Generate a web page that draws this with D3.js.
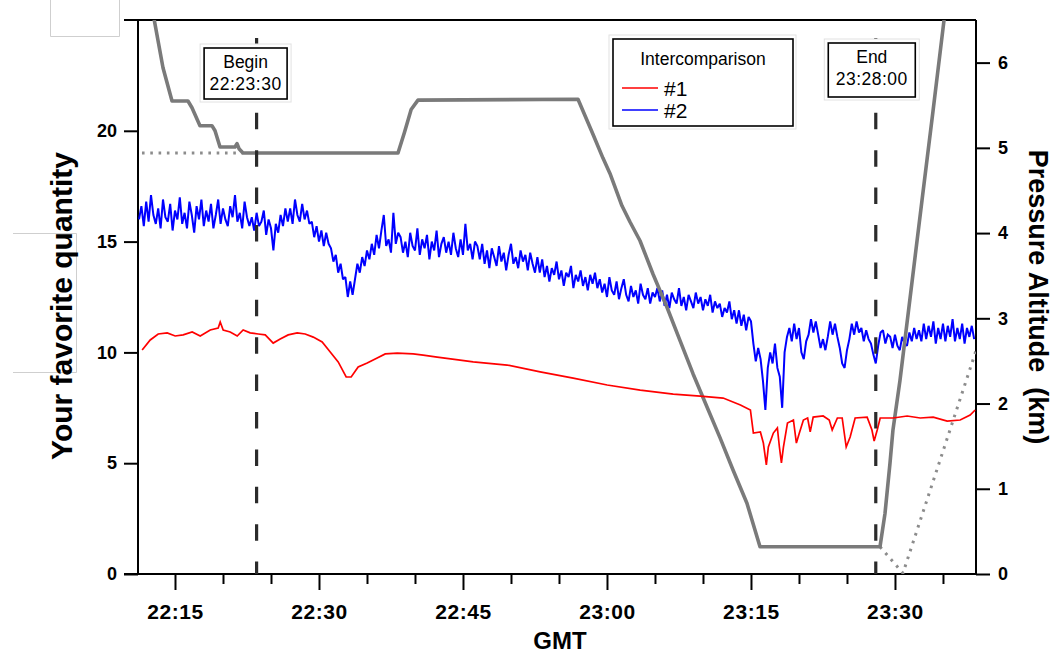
<!DOCTYPE html>
<html>
<head>
<meta charset="utf-8">
<script src="https://cdn.jsdelivr.net/npm/d3@7"></script>
<style>
  body { margin: 0; background: #fff; }
  svg { font-family: "Liberation Sans", Arial, sans-serif; }
</style>
</head>
<body>
<svg id="chart" width="1053" height="654"></svg>
<script>
// all times are minutes after 22:00 GMT
const redT = [11.58, 12.42, 13.25, 14.19, 15.02, 15.85, 16.79, 17.63, 18.67, 19.5, 19.71, 20.02, 20.75, 21.48, 22.1, 22.83, 23.67, 24.4, 25.23, 25.96, 26.79, 27.73, 28.56, 29.4, 30.33, 31.17, 32.0, 32.83, 33.35, 34.08, 35.02, 36.06, 36.9, 38.15, 39.81, 40.85, 42.31, 44.5, 46.06, 49.6, 53.04, 56.48, 60.02, 63.46, 66.9, 69.71, 72.1, 73.9, 74.94, 75.25, 75.98, 76.29, 76.6, 76.81, 77.33, 77.75, 77.96, 78.17, 78.38, 78.8, 79.42, 79.73, 80.04, 80.46, 80.9, 81.17, 81.48, 82.52, 83.15, 83.46, 84.0, 84.5, 84.92, 85.33, 85.85, 87.1, 87.6, 87.83, 88.15, 88.46, 89.81, 91.27, 92.63, 93.98, 95.44, 96.79, 97.83, 98.35]
const redV = [10.11, 10.56, 10.83, 10.88, 10.74, 10.79, 10.92, 10.74, 11.01, 11.10, 11.37, 11.01, 10.92, 10.74, 11.01, 10.88, 10.83, 10.79, 10.42, 10.6, 10.79, 10.88, 10.83, 10.69, 10.47, 10.02, 9.57, 8.89, 8.89, 9.34, 9.52, 9.75, 9.93, 9.97, 9.93, 9.88, 9.79, 9.66, 9.57, 9.43, 9.12, 8.84, 8.53, 8.30, 8.12, 8.03, 7.94, 7.63, 7.40, 6.36, 6.41, 5.91, 4.92, 5.73, 6.36, 6.59, 5.73, 5.01, 5.73, 6.81, 6.95, 5.91, 6.36, 6.95, 7.04, 6.41, 7.08, 7.13, 6.95, 6.50, 7.04, 7.04, 5.73, 6.18, 7.04, 7.08, 6.50, 6.00, 6.50, 7.04, 7.04, 7.13, 7.04, 7.08, 6.90, 6.95, 7.17, 7.40]

// #2 is logged every 15 s
const blueStart = 11.25
const blueStep = 0.25
const blueV = [
  16.0, 16.6, 15.7, 16.8, 15.9, 17.1, 16.2, 15.8, 16.5, 15.6, 16.9, 16.1, 15.9, 16.7, 15.5, 16.4, 16.0, 17.0, 15.8, 16.3,
  15.6, 16.8, 16.2, 15.4, 16.6, 16.0, 16.9, 15.7, 16.4, 15.9, 16.7, 15.6, 16.2, 16.9, 15.8, 16.5, 16.0, 15.7, 16.6, 16.1,
  17.1, 15.9, 16.3, 15.6, 16.8, 16.1, 15.7,
  16.1, 15.5, 16.3, 15.7, 15.9, 16.4, 15.3, 16.0, 15.6, 14.6, 15.8, 15.4, 16.2, 15.7, 16.5, 15.9,
  16.5, 15.8, 16.9, 16.2, 15.9, 16.7, 16.0, 16.4, 15.8,
  15.9, 15.2, 15.7, 15.0, 15.5, 14.8, 15.4, 14.9,
  14.7, 14.1, 14.4, 13.6, 14.0, 13.3,
  13.4, 12.5, 13.2, 12.6,
  13.3, 14.0, 13.6, 14.3, 13.9, 14.6, 14.2,
  14.9, 14.4, 15.3, 14.7, 15.5, 16.2, 14.8, 15.1, 14.5, 16.3, 14.9, 15.4,
  15.2, 14.5, 15.0, 14.3, 15.4, 14.8, 14.6, 15.6, 14.4, 15.1, 14.7, 15.3, 14.2, 15.0, 14.6, 15.5, 14.3, 14.9, 15.2, 14.5,
  15.0, 14.4, 15.4, 14.7, 14.3,
  15.1, 14.4, 15.8, 14.6, 14.9, 14.2, 15.0,
  14.8, 14.2, 14.9, 14.0, 14.6, 13.8, 14.7, 14.3, 13.9, 14.8, 14.1, 14.5, 13.7, 14.4, 14.9, 14.0, 14.3, 13.8, 14.6, 14.1,
  14.4, 13.7, 14.5, 14.0, 13.6, 14.3,
  13.6, 14.2, 13.4, 13.9, 13.2, 13.8, 13.5, 14.1, 13.3, 13.7, 13.0, 13.6, 13.4, 13.9, 12.9, 13.5, 13.2, 13.7, 13.0, 13.4,
  12.8, 13.5, 13.1, 13.6, 12.9,
  13.3, 12.7, 13.1, 12.5, 13.4, 12.8, 12.6, 13.2, 12.4, 12.9, 13.3, 12.6, 12.3, 13.0, 12.5, 12.8, 12.2, 13.1, 12.6, 12.4,
  12.9, 12.2, 12.7, 12.5, 12.9,
  12.3, 12.8, 12.1, 12.6, 12.0, 12.7, 12.4, 12.2, 12.9, 12.1, 12.5, 11.9, 12.6, 12.3, 12.0, 12.7, 12.2, 12.5, 11.9, 12.4,
  12.1, 12.6, 11.8, 12.3, 12.0,
  12.2, 11.6, 12.0, 11.8, 12.3, 11.5, 11.9,
  11.3, 11.9, 11.2, 11.7, 11.0, 11.6, 11.4,
  10.4, 9.6, 10.2,
  9.7, 8.7, 7.4, 9.3, 10.0,
  9.5, 10.4, 9.3,
  8.9, 7.5,
  10.0, 10.7, 11.1,
  10.5, 11.3, 10.6, 11.1,
  10.0, 9.7, 10.5,
  10.8, 11.5, 10.9, 11.4,
  10.8, 10.2, 10.6, 10.1,
  10.7, 11.4, 10.8, 11.3, 10.7,
  10.2, 9.5, 9.3, 10.1,
  10.6, 11.3, 10.8, 11.4, 10.9,
  11.1, 10.5, 11.0, 10.6, 10.4,
  9.9, 9.5,
  10.3, 10.9, 11.0, 10.4, 10.8,
  10.7, 10.2, 10.8, 10.3, 10.1, 10.7, 10.4,
  10.3, 10.9, 10.5, 11.1, 10.6, 11.0,
  10.5, 11.3, 10.6, 11.2, 10.7, 11.4, 10.4, 11.1, 10.6, 11.3, 10.5, 11.2, 10.7, 11.5, 10.5, 11.1, 10.6, 11.3, 10.4, 11.1,
  10.7, 11.2, 10.6
]

// pressure altitude, km
const altT = [12.40, 13.75, 14.69, 16.35, 16.77, 17.60, 18.85, 19.17, 19.69, 21.25, 21.46, 21.67, 22.08, 38.23, 38.9, 39.6, 40.31, 56.98, 58.54, 59.58, 60.31, 61.56, 62.40, 63.44, 64.79, 66.25, 67.60, 68.96, 70.42, 71.77, 73.13, 74.58, 75.94, 88.44, 88.96, 89.48, 89.79, 90.52, 91.67, 92.81, 93.96, 95.10, 95.42]
const altKm = [6.77, 5.94, 5.55, 5.55, 5.47, 5.26, 5.26, 5.20, 5.01, 5.01, 5.05, 4.99, 4.94, 4.94, 5.18, 5.45, 5.56, 5.57, 5.16, 4.88, 4.70, 4.32, 4.13, 3.91, 3.52, 3.13, 2.74, 2.35, 1.96, 1.60, 1.22, 0.83, 0.32, 0.32, 0.71, 1.30, 1.69, 2.27, 3.33, 4.38, 5.43, 6.49, 6.78]
const dotStartT = [11.56, 22.0]
const dotStartKm = [4.94, 4.94]
const dotEndT = [88.44, 90.83, 98.44]
const dotEndKm = [0.32, 0.01, 2.62]

const markerLabels = ['Begin', 'End']
const markerTimes = ['22:23:30', '23:28:00']
const leftTicks = [0, 5, 10, 15, 20]
const rightTicks = [0, 1, 2, 3, 4, 5, 6]
const legendTitle = 'Intercomparison'
const seriesNames = ['#1', '#2']
const seriesColors = ['#ff0000', '#0000ff']

const base = new Date(2000, 0, 1, 22, 0, 0)
const toDate = (m) => new Date(base.getTime() + m * 60000)
const FONT = '"Liberation Sans", Arial, sans-serif'

createGraph()

function createGraph () {
  const dim = { left: 138, right: 976, top: 20, bottom: 574 }
  const svg = d3.select('#chart')
  const scales = setScales(dim)
  drawStrayFrames(svg)
  drawFrame(svg, dim)
  drawAxes(svg, dim, scales)
  drawSeries(svg, dim, scales)
  drawMarkers(svg, dim, scales)
  drawLegend(svg)
  drawTitles(svg)
}

function setScales (dim) {
  return {
    x: d3.scaleTime()
      .domain([toDate(11.146), toDate(98.44)])
      .range([dim.left, dim.right]),
    yL: d3.scaleLinear().domain([0, 25]).range([dim.bottom, dim.top]),
    yR: d3.scaleLinear().domain([0, 6.5]).range([dim.bottom, dim.top])
  }
}

function drawStrayFrames (svg) {
  // leftover empty text frames in the original figure
  svg.append('path')
    .attr('d', 'M50.5,0 V36.5 H119.5 V0')
    .attr('fill', 'none').attr('stroke', '#cfcfcf')
  svg.append('path')
    .attr('d', 'M13,233.5 H76.5 V372.5 H13')
    .attr('fill', 'none').attr('stroke', '#cfcfcf')
}

function drawFrame (svg, { left, right, top, bottom }) {
  const g = svg.append('g').attr('stroke', '#000').attr('stroke-width', 2)
  g.append('line').attr('x1', 124).attr('x2', right).attr('y1', top).attr('y2', top)
  g.append('line').attr('x1', 124).attr('x2', right).attr('y1', bottom).attr('y2', bottom)
  g.append('line').attr('x1', left).attr('x2', left).attr('y1', top).attr('y2', bottom)
  g.append('line').attr('x1', right).attr('x2', right).attr('y1', top).attr('y2', bottom)
}

function drawAxes (svg, dim, { x, yL, yR }) {
  const major = d3.range(15, 91, 15).map(toDate)
  const minor = d3.range(20, 96, 5).filter((m) => m % 15 !== 0).map(toDate)

  const gx = svg.append('g')
    .attr('transform', `translate(0,${dim.bottom})`)
    .call(d3.axisBottom(x).tickValues(major).tickSize(16).tickPadding(14)
      .tickFormat(d3.timeFormat('%H:%M')))
  const gm = svg.append('g')
    .attr('transform', `translate(0,${dim.bottom})`)
    .call(d3.axisBottom(x).tickValues(minor).tickSize(10).tickFormat(''))
  gx.selectAll('text').attr('font-size', 21).attr('letter-spacing', 0.6)

  const gl = svg.append('g')
    .attr('transform', `translate(${dim.left},0)`)
    .call(d3.axisLeft(yL).tickValues(leftTicks).tickSize(14).tickPadding(7)
      .tickFormat(d3.format('d')))
  const gr = svg.append('g')
    .attr('transform', `translate(${dim.right},0)`)
    .call(d3.axisRight(yR).tickValues(rightTicks).tickSize(14).tickPadding(8)
      .tickFormat(d3.format('d')))
  gl.selectAll('text').attr('font-size', 18)
  gr.selectAll('text').attr('font-size', 18)

  for (const g of [gx, gm, gl, gr]) {
    g.attr('font-family', FONT)
    g.select('.domain').remove()
    g.selectAll('line').attr('stroke', '#000').attr('stroke-width', 2)
    g.selectAll('text').attr('fill', '#000').attr('font-weight', 'bold')
  }
}

function drawSeries (svg, dim, { x, yL, yR }) {
  svg.append('clipPath').attr('id', 'plotClip')
    .append('rect')
    .attr('x', dim.left).attr('y', dim.top)
    .attr('width', dim.right - dim.left).attr('height', dim.bottom - dim.top)
  const g = svg.append('g').attr('clip-path', 'url(#plotClip)')

  const lineL = d3.line().x((d) => x(toDate(d[0]))).y((d) => yL(d[1]))
  const lineR = d3.line().x((d) => x(toDate(d[0]))).y((d) => yR(d[1]))
  const blue = blueV.map((v, i) => [blueStart + i * blueStep, v])

  g.append('path').datum(blue).attr('d', lineL)
    .attr('fill', 'none').attr('stroke', seriesColors[1]).attr('stroke-width', 2)
    .attr('stroke-linejoin', 'miter').attr('stroke-miterlimit', 2)

  for (const seg of [d3.zip(dotStartT, dotStartKm), d3.zip(dotEndT, dotEndKm)]) {
    g.append('path').datum(seg).attr('d', lineR)
      .attr('fill', 'none').attr('stroke', '#8c8c8c').attr('stroke-width', 3)
      .attr('stroke-dasharray', '2.6,5.7')
  }
  g.append('path').datum(d3.zip(altT, altKm)).attr('d', lineR)
    .attr('fill', 'none').attr('stroke', '#7a7a7a').attr('stroke-width', 3.6)
    .attr('stroke-linejoin', 'round')

  g.append('path').datum(d3.zip(redT, redV)).attr('d', lineL)
    .attr('fill', 'none').attr('stroke', seriesColors[0]).attr('stroke-width', 1.7)
}

function drawMarkers (svg, dim, { x }) {
  const parse = d3.timeParse('%H:%M:%S')
  const offsets = [-11, -4]
  const boxTops = [48, 43]
  markerTimes.forEach((t, i) => {
    const p = parse(t)
    const m = (p.getHours() - 22) * 60 + p.getMinutes() + p.getSeconds() / 60
    const xm = x(toDate(m))
    svg.append('line')
      .attr('x1', xm).attr('x2', xm).attr('y1', 38).attr('y2', dim.bottom)
      .attr('stroke', '#2b2b2b').attr('stroke-width', 3.2)
      .attr('stroke-dasharray', '16.5,20.9')

    const cx = xm + offsets[i]
    const w = i === 0 ? 83 : 87
    const h = i === 0 ? 51 : 54
    const top = boxTops[i]
    svg.append('rect')
      .attr('x', cx - w / 2 - 4).attr('y', top - 4).attr('width', w + 8).attr('height', h + 7)
      .attr('fill', '#fff').attr('stroke', '#e2e2e2')
    svg.append('rect')
      .attr('x', cx - w / 2).attr('y', top).attr('width', w).attr('height', h)
      .attr('fill', '#fff').attr('stroke', '#000').attr('stroke-width', 1.6)
    const txt = svg.append('text').attr('text-anchor', 'middle')
      .attr('font-size', 17.5).attr('fill', '#000')
    txt.append('tspan').attr('x', cx).attr('y', top + 20).text(markerLabels[i])
    txt.append('tspan').attr('x', cx).attr('y', top + 42).attr('letter-spacing', 0.5).text(t)
  })
}

function drawLegend (svg) {
  svg.append('rect').attr('x', 609).attr('y', 35).attr('width', 187).attr('height', 94)
    .attr('fill', '#fff').attr('stroke', '#e2e2e2')
  svg.append('rect').attr('x', 613).attr('y', 39).attr('width', 180).attr('height', 87)
    .attr('fill', '#fff').attr('stroke', '#000').attr('stroke-width', 1.6)
  svg.append('text').attr('x', 703).attr('y', 65).attr('text-anchor', 'middle')
    .attr('font-size', 17.5).text(legendTitle)
  seriesNames.forEach((name, i) => {
    const y = 88 + i * 22
    svg.append('line').attr('x1', 622).attr('x2', 658).attr('y1', y).attr('y2', y)
      .attr('stroke', seriesColors[i]).attr('stroke-width', 1.6)
    svg.append('text').attr('x', 664).attr('y', y + 8).attr('font-size', 21).text(name)
  })
}

function drawTitles (svg) {
  svg.append('text').attr('x', 560).attr('y', 649).attr('text-anchor', 'middle')
    .attr('font-size', 24).attr('font-weight', 'bold').text('GMT')
  svg.append('text').attr('transform', 'translate(72,306) rotate(-90)')
    .attr('text-anchor', 'middle').attr('font-size', 30).attr('font-weight', 'bold')
    .text('Your favorite quantity')
  svg.append('text').attr('transform', 'translate(1029,297) rotate(90)')
    .attr('text-anchor', 'middle').attr('font-size', 27).attr('font-weight', 'bold')
    .attr('xml:space', 'preserve').style('white-space', 'pre')
    .text('Pressure Altitude  (km)')
}
</script>
</body>
</html>
